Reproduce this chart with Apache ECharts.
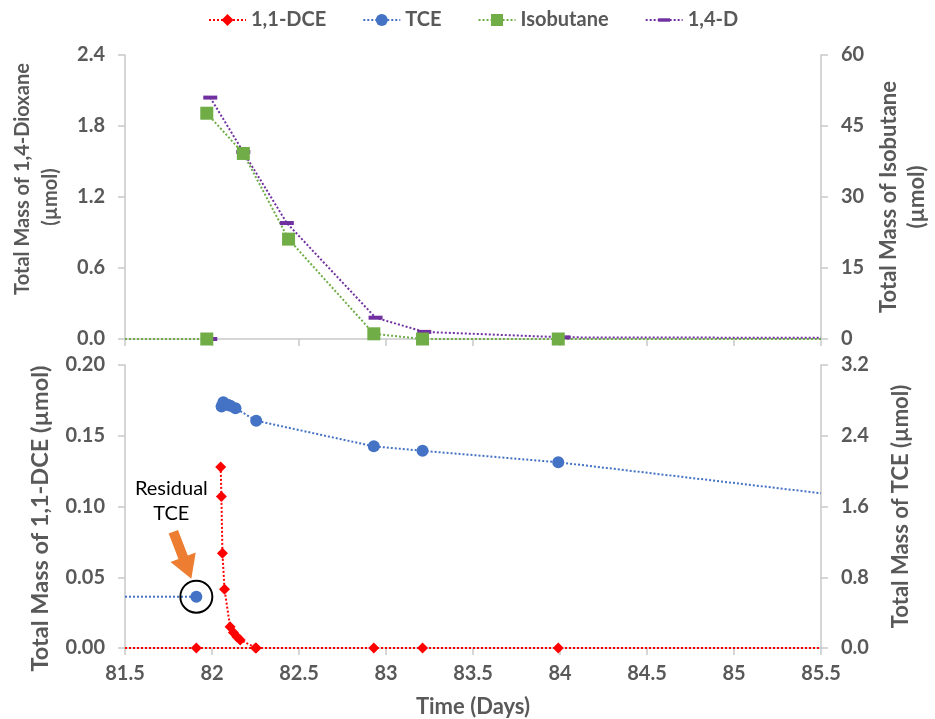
<!DOCTYPE html>
<html>
<head>
<meta charset="utf-8">
<script src="https://cdn.jsdelivr.net/npm/echarts@6/dist/echarts.min.js"></script>
<style>
  html, body { margin: 0; padding: 0; background: #ffffff; }
  #chart { width: 935px; height: 719px; }
</style>
</head>
<body>
<div id="chart"></div>
<script>
// Time axis (days)
const X_MIN = 81.5;
const X_MAX = 85.5;
const X_STEP = 0.5;

// Panel A: 1,4-dioxane (µmol, left axis) and isobutane (µmol, right axis)
const dioxBaseDays = [81.5, 81.99];
const dioxBaseMass = [0, 0];
const dioxDays = [81.99, 82.18, 82.43, 82.94, 83.22, 84.02, 85.5];
const dioxMass = [2.04, 1.58, 0.98, 0.18, 0.06, 0.014, 0.01];

const isoBaseDays = [81.5, 81.97];
const isoBaseMass = [0, 0];
const isoDays = [81.97, 82.18, 82.44, 82.93, 83.21, 83.99, 85.5];
const isoMass = [47.7, 39.2, 21.1, 1.1, 0, 0, 0];

// Panel B: 1,1-DCE (µmol, left axis) and TCE (µmol, right axis)
const dceBaseDays = [81.5, 81.91, 82.25, 82.93, 83.21, 83.99, 85.5];
const dceBaseMass = [0, 0, 0, 0, 0, 0, 0];
const dceDays = [82.05, 82.054, 82.06, 82.072, 82.104, 82.123, 82.143, 82.162, 82.254];
const dceMass = [0.128, 0.107, 0.067, 0.0415, 0.015, 0.011, 0.008, 0.0057, 0];

const tceResidualDays = [81.5, 81.91];
const tceResidualMass = [0.58, 0.58];
const tceDays = [82.055, 82.065, 82.09, 82.105, 82.135, 82.254, 82.93, 83.21, 83.99, 85.5];
const tceMass = [2.73, 2.78, 2.75, 2.74, 2.71, 2.57, 2.28, 2.23, 2.10, 1.75];

// Axis ranges [min, max, interval]
const dioxRange = [0, 2.4, 0.6];
const isoRange = [0, 60, 15];
const dceRange = [0, 0.2, 0.05];
const tceRange = [0, 3.2, 0.8];

const COLORS = { dce: '#FF0000', tce: '#4472C4', iso: '#70AD47', diox: '#7030A0' };
const FONT = 'Lato, "Open Sans", sans-serif';
const GREY = '#595959';
const AXIS_LINE = '#C9C9C9';
// flat dash marker: a 14x4 bar centred in a square box (the empty sub-paths only set the box)
const DASH = 'path://M0,0L0,0M0,5L14,5L14,9L0,9ZM14,14L14,14';

// points at the frame edges carry the line only, no marker
function points(days, vals) {
  return days.map((d, i) => {
    const item = { value: [d, vals[i]] };
    if (d === X_MIN || d === X_MAX) item.symbol = 'none';
    return item;
  });
}

const chart = echarts.init(document.getElementById('chart'), null, { renderer: 'canvas' });

const tickLabel = { color: GREY, fontSize: 20, fontWeight: 'bold', fontFamily: FONT };
function titleStyle(size, extra) {
  return Object.assign({ color: GREY, fontSize: size, fontWeight: 'bold', fontFamily: FONT, lineHeight: 28 }, extra || {});
}
const line = { color: AXIS_LINE, width: 1.5 };

function xAxis(gridIndex, showLabels) {
  return {
    type: 'value', gridIndex, min: X_MIN, max: X_MAX, interval: X_STEP,
    axisLine: { show: true, onZero: false, lineStyle: line },
    axisTick: { show: true, inside: false, length: 7, lineStyle: line },
    axisLabel: Object.assign({ show: showLabels, margin: 16 }, tickLabel),
    splitLine: { show: false },
    name: showLabels ? 'Time (Days)' : '',
    nameLocation: 'middle', nameGap: 45,
    nameTextStyle: titleStyle(22)
  };
}

function yAxis(gridIndex, position, range, digits, name, gap, nameStyle) {
  return {
    type: 'value', gridIndex, position,
    min: range[0], max: range[1], interval: range[2],
    axisLine: { show: true, onZero: false, lineStyle: line },
    axisTick: { show: true, inside: false, length: 7, lineStyle: line },
    axisLabel: Object.assign({ margin: 20, formatter: v => v.toFixed(digits) }, tickLabel),
    splitLine: { show: false },
    name, nameLocation: 'middle', nameRotate: 90, nameGap: gap,
    nameTextStyle: nameStyle
  };
}

function lineSeries(name, color, data, xi, yi, symbol, size) {
  return {
    name, type: 'line', xAxisIndex: xi, yAxisIndex: yi,
    data, symbol, symbolSize: size, showSymbol: true,
    clip: true, animation: false,
    lineStyle: { color, width: 2, type: [2, 2] },
    itemStyle: { color, borderWidth: 0 },
    emphasis: { disabled: true }
  };
}

const option = {
  backgroundColor: '#ffffff',
  animation: false,
  legend: {
    top: 5, left: 203,
    itemWidth: 37, itemHeight: 15, itemGap: 36,
    textStyle: { color: GREY, fontSize: 20, fontWeight: 'bold', fontFamily: FONT },
    data: ['1,1-DCE', 'TCE', 'Isobutane', '1,4-D']
  },
  grid: [
    { left: 125, top: 55, width: 696, height: 284, outerBoundsMode: 'none', containLabel: false },
    { left: 125, top: 365, width: 696, height: 283, outerBoundsMode: 'none', containLabel: false }
  ],
  xAxis: [xAxis(0, false), xAxis(1, true)],
  yAxis: [
    yAxis(0, 'left', dioxRange, 1, '{a|Total Mass of 1,4-Dioxane}\n(µmol)', 60,
      titleStyle(20, { rich: { a: { color: GREY, fontSize: 20, fontWeight: 'bold', fontFamily: FONT, padding: [0, 0, 0, 36] } } })),
    yAxis(0, 'right', isoRange, 0, 'Total Mass of Isobutane\n(µmol)', 52, titleStyle(22)),
    yAxis(1, 'left', dceRange, 2, 'Total Mass of 1,1-DCE (µmol)', 70, titleStyle(23.5, { padding: [0, 24, 0, 0] })),
    yAxis(1, 'right', tceRange, 1, 'Total Mass of TCE (µmol)', 66, titleStyle(22))
  ],
  series: [
    lineSeries('1,1-DCE', COLORS.dce, points(dceBaseDays, dceBaseMass), 1, 2, 'diamond', 11),
    lineSeries('1,1-DCE', COLORS.dce, points(dceDays, dceMass), 1, 2, 'diamond', 11),
    lineSeries('TCE', COLORS.tce, points(tceResidualDays, tceResidualMass), 1, 3, 'circle', 12),
    lineSeries('TCE', COLORS.tce, points(tceDays, tceMass), 1, 3, 'circle', 12),
    lineSeries('1,4-D', COLORS.diox, points(dioxBaseDays, dioxBaseMass), 0, 0, DASH, 14),
    lineSeries('1,4-D', COLORS.diox, points(dioxDays, dioxMass), 0, 0, DASH, 14),
    lineSeries('Isobutane', COLORS.iso, points(isoBaseDays, isoBaseMass), 0, 1, 'rect', 13),
    lineSeries('Isobutane', COLORS.iso, points(isoDays, isoMass), 0, 1, 'rect', 13)
  ]
};

chart.setOption(option);

// Panel letters and the "Residual TCE" callout, anchored on the residual TCE point
const panelA = chart.convertToPixel({ gridIndex: 0 }, [X_MAX, isoRange[1]]);
const panelB = chart.convertToPixel({ gridIndex: 1 }, [X_MAX, tceRange[1]]);
const res = chart.convertToPixel({ xAxisIndex: 1, yAxisIndex: 3 },
  [tceResidualDays[tceResidualDays.length - 1], tceResidualMass[tceResidualMass.length - 1]]);

const tail = [res[0] - 23, res[1] - 65];
const tip = [res[0] - 5, res[1] - 18];
const dx = tip[0] - tail[0], dy = tip[1] - tail[1];
const len = Math.hypot(dx, dy);
const ux = dx / len, uy = dy / len, nx = -uy, ny = ux;
const headLen = 23, shaftHalf = 5, headHalf = 13.5;
const base = [tip[0] - ux * headLen, tip[1] - uy * headLen];
const arrow = [
  [tail[0] + nx * shaftHalf, tail[1] + ny * shaftHalf],
  [base[0] + nx * shaftHalf, base[1] + ny * shaftHalf],
  [base[0] + nx * headHalf, base[1] + ny * headHalf],
  tip,
  [base[0] - nx * headHalf, base[1] - ny * headHalf],
  [base[0] - nx * shaftHalf, base[1] - ny * shaftHalf],
  [tail[0] - nx * shaftHalf, tail[1] - ny * shaftHalf]
];

chart.setOption({
  graphic: [
    { type: 'text', z: 100, x: panelA[0] - 20, y: panelA[1] + 22,
      style: { text: 'A', align: 'center', verticalAlign: 'middle',
               fontSize: 25, fontWeight: 'bold', fontFamily: FONT, fill: '#000' } },
    { type: 'text', z: 100, x: panelB[0] - 20, y: panelB[1] + 22,
      style: { text: 'B', align: 'center', verticalAlign: 'middle',
               fontSize: 25, fontWeight: 'bold', fontFamily: FONT, fill: '#000' } },
    { type: 'circle', z: 100, shape: { cx: res[0], cy: res[1], r: 16 },
      style: { fill: 'none', stroke: '#000', lineWidth: 2 } },
    { type: 'polygon', z: 100, shape: { points: arrow },
      style: { fill: '#ED7D31', stroke: 'none' } },
    { type: 'text', z: 100, x: res[0] - 25, y: res[1] - 96,
      style: { text: 'Residual\nTCE', align: 'center', verticalAlign: 'middle',
               fontSize: 20, lineHeight: 25, fontFamily: FONT, fill: '#000' } }
  ]
});
</script>
</body>
</html>
